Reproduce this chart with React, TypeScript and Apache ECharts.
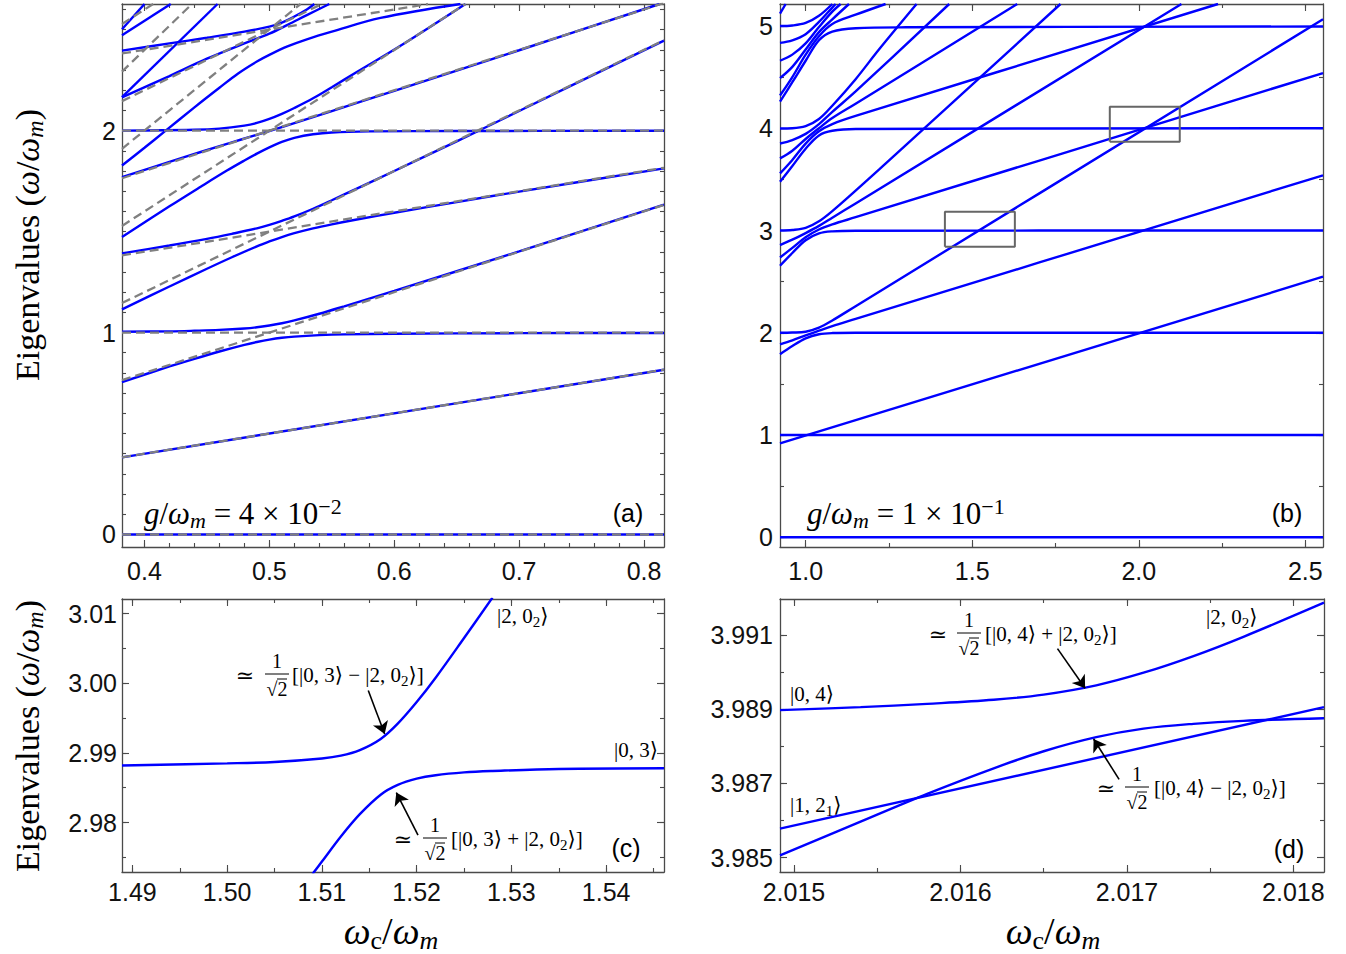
import React, { useEffect, useRef } from "react";
import * as echarts from "echarts";

const BLUE = "#0000ff";
const GRAY = "#808080";
const FRAME = "#4a4a4a";
const SANS = "'Liberation Sans', Arial, Helvetica, sans-serif";
const SERIF = "'Liberation Serif', 'DejaVu Serif', 'Times New Roman', serif";

// ---------- tick labels ----------
const aXTicks = [0.4, 0.5, 0.6, 0.7, 0.8];
const aYTicks = [0, 1, 2];
const bXTicks = [1.0, 1.5, 2.0, 2.5];
const bYTicks = [0, 1, 2, 3, 4, 5];
const cXTicks = [1.49, 1.5, 1.51, 1.52, 1.53, 1.54];
const cYTicks = [2.98, 2.99, 3.0, 3.01];
const dXTicks = [2.015, 2.016, 2.017, 2.018];
const dYTicks = [3.985, 3.987, 3.989, 3.991];

// ---------- panel (a): uncoupled levels (dashed) ----------
const aDashed = [
  [[0.382, 0], [0.816, 0]],
  [[0.382, 0.382], [0.816, 0.816]],
  [[0.382, 0.764], [0.816, 1.632]],
  [[0.382, 1], [0.816, 1]],
  [[0.382, 1.146], [0.816, 2.448]],
  [[0.382, 1.382], [0.816, 1.816]],
  [[0.382, 1.528], [0.657, 2.627]],
  [[0.382, 1.764], [0.816, 2.632]],
  [[0.382, 1.91], [0.525, 2.627]],
  [[0.382, 2], [0.816, 2]],
  [[0.382, 2.146], [0.542, 2.627]],
  [[0.382, 2.292], [0.438, 2.627]],
  [[0.382, 2.382], [0.627, 2.627]],
  [[0.382, 2.528], [0.407, 2.627]],
];

// ---------- panel (a): eigenvalues (blue) ----------
const aBlue = [
  [[0.382, 0], [0.816, 0]],
  [[0.382, 0.382], [0.816, 0.816]],
  [[0.382, 0.755], [0.42, 0.832], [0.44, 0.87], [0.46, 0.906], [0.48, 0.939], [0.49, 0.953], [0.5, 0.965], [0.51, 0.974], [0.52, 0.98], [0.54, 0.987], [0.56, 0.991], [0.6, 0.994], [0.7, 0.997], [0.816, 0.998]],
  [[0.382, 1.004], [0.42, 1.006], [0.44, 1.009], [0.46, 1.013], [0.48, 1.02], [0.49, 1.026], [0.5, 1.035], [0.51, 1.046], [0.52, 1.06], [0.54, 1.093], [0.56, 1.13], [0.6, 1.206], [0.7, 1.402], [0.816, 1.633]],
  [[0.382, 1.115], [0.42, 1.228], [0.45, 1.316], [0.47, 1.373], [0.49, 1.427], [0.5, 1.451], [0.51, 1.473], [0.52, 1.492], [0.535, 1.516], [0.55, 1.536], [0.57, 1.56], [0.6, 1.593], [0.65, 1.646], [0.7, 1.698], [0.816, 1.813]],
  [[0.382, 1.392], [0.42, 1.431], [0.45, 1.464], [0.47, 1.489], [0.49, 1.516], [0.5, 1.533], [0.51, 1.553], [0.52, 1.575], [0.535, 1.613], [0.55, 1.655], [0.57, 1.713], [0.6, 1.8], [0.65, 1.947], [0.7, 2.097], [0.816, 2.446]],
  [[0.382, 1.473], [0.42, 1.625], [0.445, 1.722], [0.466, 1.802], [0.48, 1.852], [0.49, 1.886], [0.5, 1.917], [0.51, 1.944], [0.52, 1.964], [0.535, 1.982], [0.55, 1.991], [0.58, 1.996], [0.65, 1.998], [0.816, 1.999]],
  [[0.382, 1.77], [0.42, 1.845], [0.445, 1.894], [0.47, 1.942], [0.485, 1.97], [0.5, 1.998], [0.515, 2.027], [0.53, 2.057], [0.55, 2.097], [0.605, 2.207], [0.7, 2.398], [0.8125, 2.627]],
  [[0.382, 2.0], [0.44, 2.004], [0.46, 2.01], [0.48, 2.025], [0.49, 2.038], [0.5, 2.058], [0.51, 2.083], [0.52, 2.112], [0.535, 2.16], [0.55, 2.215], [0.57, 2.29], [0.605, 2.42], [0.657, 2.627]],
  [[0.382, 1.827], [0.4, 1.915], [0.416, 1.995], [0.44, 2.115], [0.46, 2.212], [0.475, 2.283], [0.49, 2.342], [0.5, 2.375], [0.515, 2.418], [0.53, 2.452], [0.55, 2.49], [0.589, 2.558], [0.653, 2.627]],
  [[0.382, 2.165], [0.42, 2.27], [0.45, 2.356], [0.48, 2.432], [0.5, 2.48], [0.515, 2.525], [0.53, 2.572], [0.548, 2.627]],
  [[0.382, 2.396], [0.42, 2.432], [0.45, 2.46], [0.48, 2.49], [0.5, 2.515], [0.51, 2.535], [0.52, 2.565], [0.53, 2.6], [0.536, 2.627]],
  [[0.382, 2.166], [0.4585, 2.627]],
  [[0.382, 2.502], [0.4, 2.627]],
  [[0.382, 2.472], [0.421, 2.627]],
];

// ---------- panel (b) ----------
const bStraight = [
  [[0.923, 0], [2.553, 0]],
  [[0.923, 1], [2.553, 1]],
  [[0.923, 0.918], [2.553, 2.548]],
];
const bCluster2 = [
  [[0.923, 1.79], [0.96, 1.87], [1.0, 1.945], [1.04, 1.985], [1.08, 1.997], [1.15, 2.0], [2.553, 2.0]],
  [[0.923, 1.886], [0.96, 1.925], [1.0, 1.975], [1.04, 2.02], [1.08, 2.065], [1.15, 2.135], [2.553, 3.54]],
  [[0.923, 2.0], [0.96, 2.002], [1.0, 2.01], [1.04, 2.05], [1.08, 2.12], [1.15, 2.26], [2.553, 5.066]],
];
const bCluster3 = [
  [[0.923, 2.655], [0.96, 2.78], [1.0, 2.905], [1.04, 2.972], [1.08, 2.992], [1.15, 2.998], [2.553, 3.0]],
  [[0.923, 2.736], [0.96, 2.83], [1.0, 2.935], [1.04, 3.01], [1.08, 3.06], [1.15, 3.13], [2.553, 4.54]],
  [[0.923, 2.857], [0.96, 2.91], [1.0, 2.975], [1.04, 3.045], [1.08, 3.125], [1.15, 3.265], [2.128, 5.215]],
  [[0.923, 3.0], [0.96, 3.005], [1.0, 3.025], [1.04, 3.09], [1.08, 3.19], [1.15, 3.39], [1.22, 3.595], [1.765, 5.215]],
];
const bCluster4 = [
  [[0.923, 3.476], [0.96, 3.63], [1.0, 3.8], [1.04, 3.93], [1.08, 3.975], [1.15, 3.993], [2.553, 4.0]],
  [[0.923, 3.558], [0.96, 3.69], [1.0, 3.85], [1.04, 3.97], [1.08, 4.04], [1.15, 4.12], [2.238, 5.215]],
  [[0.923, 3.705], [0.96, 3.78], [1.0, 3.895], [1.04, 4.0], [1.08, 4.1], [1.15, 4.24], [1.635, 5.215]],
  [[0.923, 3.851], [0.96, 3.885], [1.0, 3.945], [1.04, 4.04], [1.08, 4.16], [1.15, 4.36], [1.431, 5.215]],
  [[0.923, 3.998], [0.96, 4.0], [1.0, 4.02], [1.04, 4.09], [1.08, 4.22], [1.15, 4.48], [1.22, 4.77], [1.333, 5.215]],
];
const bCluster5 = [
  [[0.923, 4.26], [0.96, 4.45], [1.0, 4.66], [1.04, 4.86], [1.08, 4.945], [1.15, 4.978], [1.3, 4.987], [2.553, 4.995]],
  [[0.923, 4.32], [0.96, 4.5], [1.0, 4.72], [1.04, 4.9], [1.08, 5.02], [1.15, 5.11], [1.24, 5.215]],
  [[0.923, 4.49], [0.96, 4.6], [1.0, 4.77], [1.04, 4.94], [1.08, 5.065], [1.13, 5.215]],
  [[0.923, 4.66], [0.96, 4.72], [1.0, 4.83], [1.04, 4.99], [1.08, 5.14], [1.105, 5.215]],
  [[0.923, 4.835], [0.96, 4.86], [1.0, 4.92], [1.04, 5.04], [1.08, 5.18], [1.09, 5.215]],
  [[0.923, 5.0], [0.96, 5.005], [1.0, 5.03], [1.04, 5.1], [1.08, 5.215]],
  [[0.923, 5.12], [0.94, 5.215]],
];
const bBoxes = [
  [[1.418, 2.841], [1.628, 2.841], [1.628, 3.183], [1.418, 3.183], [1.418, 2.841]],
  [[1.913, 3.867], [2.123, 3.867], [2.123, 4.209], [1.913, 4.209], [1.913, 3.867]],
];

// ---------- panel (c) ----------
const cUpper = [[1.4889, 2.9882], [1.5, 2.9885], [1.505, 2.9887], [1.51, 2.9892], [1.512, 2.9896], [1.514, 2.9904], [1.5162, 2.992], [1.518, 2.9942], [1.52, 2.9973], [1.522, 3.0008], [1.525, 3.0065], [1.528, 3.0123]];
const cLower = [[1.509, 2.9726], [1.51, 2.9744], [1.512, 2.978], [1.514, 2.9812], [1.5162, 2.984], [1.518, 2.9854], [1.52, 2.9863], [1.522, 2.9868], [1.525, 2.9872], [1.528, 2.9874], [1.535, 2.9877], [1.5461, 2.9878]];
const cArrows = [
  [[1.51489, 2.99897], [1.51662, 2.99272]],
  [[1.52014, 2.97819], [1.51785, 2.9843]],
];

// ---------- panel (d) ----------
const dUpper = [[2.014916, 3.98898], [2.0154, 3.98906], [2.0158, 3.98915], [2.0162, 3.98926], [2.0165, 3.9894], [2.016816, 3.98965], [2.0171, 3.98999], [2.0174, 3.99044], [2.0177, 3.99096], [2.018184, 3.99188]];
const dLower = [[2.014916, 3.98506], [2.0154, 3.98597], [2.0158, 3.98672], [2.0162, 3.98741], [2.0165, 3.98787], [2.016816, 3.98825], [2.0171, 3.98848], [2.0174, 3.98861], [2.0177, 3.98869], [2.018184, 3.98876]];
const dStraight = [[2.014916, 3.98578], [2.018184, 3.98906]];
const dArrows = [
  [[2.016583, 3.99064], [2.016749, 3.98957]],
  [[2.016953, 3.98711], [2.0168, 3.9882]],
];

// ---------- layout ----------
const panels = [
  { rect: { left: 122, top: 4, width: 542, height: 543 }, xr: [0.382, 0.816], yr: [-0.062, 2.627], xt: aXTicks, yt: aYTicks, xStep: 0.02, yStep: 0.1, xDec: 1, yDec: 0, xMargin: 11, yMargin: 6 },
  { rect: { left: 780, top: 4, width: 543, height: 543 }, xr: [0.923, 2.553], yr: [-0.095, 5.215], xt: bXTicks, yt: bYTicks, xStep: 0.25, yStep: 0.5, xDec: 1, yDec: 0, xMargin: 11, yMargin: 7 },
  { rect: { left: 122, top: 599, width: 542, height: 273 }, xr: [1.4889, 1.5461], yr: [2.9729, 3.0121], xt: cXTicks, yt: cYTicks, xStep: 0.005, yStep: 0.005, xDec: 2, yDec: 2, xMargin: 7, yMargin: 5 },
  { rect: { left: 780, top: 599, width: 544, height: 273 }, xr: [2.014916, 2.018184], yr: [3.98461, 3.99198], xt: dXTicks, yt: dYTicks, xStep: 0.0005, yStep: 0.001, xDec: 3, yDec: 3, xMargin: 7, yMargin: 7 },
];

function minorVals(min: number, max: number, step: number) {
  const out: number[] = [];
  const s = Math.ceil(min / step - 1e-9);
  const e = Math.floor(max / step + 1e-9);
  for (let i = s; i <= e; i++) out.push(+(i * step).toFixed(6));
  return out;
}

function mkAxis(isX: boolean, gi: number, pos: string, vals: number[], len: number, labels: boolean, P: any, minor: boolean) {
  const r = isX ? P.xr : P.yr;
  const dec = isX ? P.xDec : P.yDec;
  return {
    type: "value",
    gridIndex: gi,
    position: pos,
    min: r[0],
    max: r[1],
    axisLine: { show: !minor, onZero: false, lineStyle: { color: FRAME, width: 1.3 } },
    axisTick: { show: true, inside: true, length: len, customValues: vals, lineStyle: { color: FRAME, width: 1.1 } },
    axisLabel: labels
      ? { show: true, customValues: vals, formatter: (v: number) => Number(v).toFixed(dec), margin: isX ? P.xMargin : P.yMargin, fontSize: 25, fontFamily: SANS, color: "#111" }
      : { show: false },
    splitLine: { show: false },
    axisPointer: { show: false },
  };
}

const yTitleRich = {
  r: { fontFamily: SERIF, fontSize: 34, lineHeight: 40, fill: "#000" },
  i: { fontFamily: SERIF, fontStyle: "italic", fontSize: 34, lineHeight: 40, fill: "#000" },
  s: { fontFamily: SERIF, fontStyle: "italic", fontSize: 24, lineHeight: 24, verticalAlign: "bottom", fill: "#000" },
};
const xTitleRich = {
  r: { fontFamily: SERIF, fontSize: 38, lineHeight: 44, fill: "#000" },
  i: { fontFamily: SERIF, fontStyle: "italic", fontSize: 38, lineHeight: 44, fill: "#000" },
  c: { fontFamily: SERIF, fontSize: 26, lineHeight: 26, verticalAlign: "bottom", fill: "#000" },
  s: { fontFamily: SERIF, fontStyle: "italic", fontSize: 26, lineHeight: 26, verticalAlign: "bottom", fill: "#000" },
};
const gRich = {
  r: { fontFamily: SERIF, fontSize: 31, lineHeight: 36, fill: "#000" },
  i: { fontFamily: SERIF, fontStyle: "italic", fontSize: 31, lineHeight: 36, fill: "#000" },
  s: { fontFamily: SERIF, fontStyle: "italic", fontSize: 22, lineHeight: 22, verticalAlign: "bottom", fill: "#000" },
  p: { fontFamily: SERIF, fontSize: 22, lineHeight: 22, verticalAlign: "top", fill: "#000" },
};
const ketRich = {
  k: { fontFamily: SERIF, fontSize: 21, lineHeight: 26, fill: "#000" },
  b: { fontFamily: SERIF, fontSize: 15, lineHeight: 15, verticalAlign: "bottom", fill: "#000" },
};

function T(x: number, y: number, text: string, rich: any, align = "center", rotation = 0) {
  return { type: "text", x, y, rotation, silent: true, style: { text, rich, align, verticalAlign: "middle", fill: "#000" } };
}
function plain(x: number, y: number, text: string, size: number, family: string) {
  return { type: "text", x, y, silent: true, style: { text, fontSize: size, fontFamily: family, fill: "#000", align: "center", verticalAlign: "middle" } };
}
function fracEls(xEq: number, xf: number, yBar: number, xBr: number, br: string) {
  return [
    plain(xEq, yBar + 1, "≃", 22, SERIF),
    plain(xf, yBar - 13, "1", 20, SERIF),
    { type: "line", silent: true, shape: { x1: xf - 12, y1: yBar, x2: xf + 12, y2: yBar }, style: { stroke: "#000", lineWidth: 1 } },
    plain(xf, yBar + 15, "√2", 20, SERIF),
    { type: "line", silent: true, shape: { x1: xf, y1: yBar + 5, x2: xf + 10, y2: yBar + 5 }, style: { stroke: "#000", lineWidth: 1 } },
    T(xBr, yBar + 1, br, ketRich, "left"),
  ];
}

function buildOption() {
  const grid: any[] = [];
  const xAxis: any[] = [];
  const yAxis: any[] = [];
  panels.forEach((P) => grid.push({ ...P.rect, containLabel: false }));
  panels.forEach((P) => grid.push({ ...P.rect, containLabel: false }));
  panels.forEach((P, p) => {
    const xm = minorVals(P.xr[0], P.xr[1], P.xStep);
    const ym = minorVals(P.yr[0], P.yr[1], P.yStep);
    xAxis.push(mkAxis(true, p, "bottom", P.xt, 7, true, P, false));
    xAxis.push(mkAxis(true, p, "top", P.xt, 7, false, P, false));
    xAxis.push(mkAxis(true, p + 4, "bottom", xm, 4, false, P, true));
    xAxis.push(mkAxis(true, p + 4, "top", xm, 4, false, P, true));
    yAxis.push(mkAxis(false, p, "left", P.yt, 7, true, P, false));
    yAxis.push(mkAxis(false, p, "right", P.yt, 7, false, P, false));
    yAxis.push(mkAxis(false, p + 4, "left", ym, 4, false, P, true));
    yAxis.push(mkAxis(false, p + 4, "right", ym, 4, false, P, true));
  });

  const line = (data: any, p: number, extra: any = {}) => ({
    type: "line",
    data,
    xAxisIndex: 4 * p,
    yAxisIndex: 4 * p,
    symbol: "none",
    showSymbol: false,
    smooth: 0.35,
    clip: true,
    silent: true,
    z: 2,
    lineStyle: { color: BLUE, width: 2.4 },
    ...extra,
  });
  const arrowML = (arr: number[][][]) => ({
    silent: true,
    symbol: ["none", "arrow"],
    symbolSize: 12,
    label: { show: false },
    lineStyle: { color: "#000", width: 1.6, type: "solid" },
    emphasis: { disabled: true },
    data: arr.map((a) => [{ coord: a[0] }, { coord: a[1] }]),
  });

  const series: any[] = [];
  aBlue.forEach((d) => series.push(line(d, 0)));
  aDashed.forEach((d) => series.push(line(d, 0, { smooth: false, z: 3, lineStyle: { color: GRAY, width: 2.3, type: [9, 5] } })));
  [...bStraight, ...bCluster2, ...bCluster3, ...bCluster4, ...bCluster5].forEach((d) => series.push(line(d, 1)));
  bBoxes.forEach((d) => series.push(line(d, 1, { smooth: false, z: 4, lineStyle: { color: "#666", width: 2 } })));
  series.push(line(cUpper, 2, { markLine: arrowML(cArrows) }));
  series.push(line(cLower, 2));
  series.push(line(dUpper, 3, { markLine: arrowML(dArrows) }));
  series.push(line(dLower, 3));
  series.push(line(dStraight, 3, { smooth: false }));

  const yTitle = "{r|Eigenvalues (}{i|ω}{r|/}{i|ω}{s|m}{r|)}";
  const xTitle = "{i|ω}{c|c}{r|/}{i|ω}{s|m}";
  const G: any[] = [
    T(27, 245, yTitle, yTitleRich, "center", Math.PI / 2),
    T(27, 736, yTitle, yTitleRich, "center", Math.PI / 2),
    T(391, 931, xTitle, xTitleRich),
    T(1053, 931, xTitle, xTitleRich),
    plain(628, 513, "(a)", 25, SANS),
    plain(1287, 513, "(b)", 25, SANS),
    plain(626, 848, "(c)", 25, SANS),
    plain(1289, 849, "(d)", 25, SANS),
    T(144, 513, "{i|g}{r|/}{i|ω}{s|m}{r| = 4 × 10}{p|−2}", gRich, "left"),
    T(807, 513, "{i|g}{r|/}{i|ω}{s|m}{r| = 1 × 10}{p|−1}", gRich, "left"),
    T(497, 616, "{k||2, 0}{b|2}{k|⟩}", ketRich, "left"),
    T(614, 750, "{k||0, 3⟩}", ketRich, "left"),
    T(790, 694, "{k||0, 4⟩}", ketRich, "left"),
    T(790, 805, "{k||1, 2}{b|1}{k|⟩}", ketRich, "left"),
    T(1206, 617, "{k||2, 0}{b|2}{k|⟩}", ketRich, "left"),
    ...fracEls(245, 277, 674, 292, "{k|[|0, 3⟩ − |2, 0}{b|2}{k|⟩]}"),
    ...fracEls(403, 435, 838, 451, "{k|[|0, 3⟩ + |2, 0}{b|2}{k|⟩]}"),
    ...fracEls(938, 969, 633, 985, "{k|[|0, 4⟩ + |2, 0}{b|2}{k|⟩]}"),
    ...fracEls(1106, 1137, 787, 1154, "{k|[|0, 4⟩ − |2, 0}{b|2}{k|⟩]}"),
  ];

  return {
    animation: false,
    backgroundColor: "#ffffff",
    grid,
    xAxis,
    yAxis,
    series,
    graphic: { elements: G },
  };
}

export default function App() {
  const ref = useRef<HTMLDivElement>(null);
  useEffect(() => {
    const chart = echarts.init(ref.current as HTMLDivElement, null, { renderer: "svg" });
    chart.setOption(buildOption() as any);
    return () => chart.dispose();
  }, []);
  return (
    <div
      ref={ref}
      style={{ position: "fixed", left: 0, top: 0, width: 1346, height: 954, background: "#fff" }}
    />
  );
}
